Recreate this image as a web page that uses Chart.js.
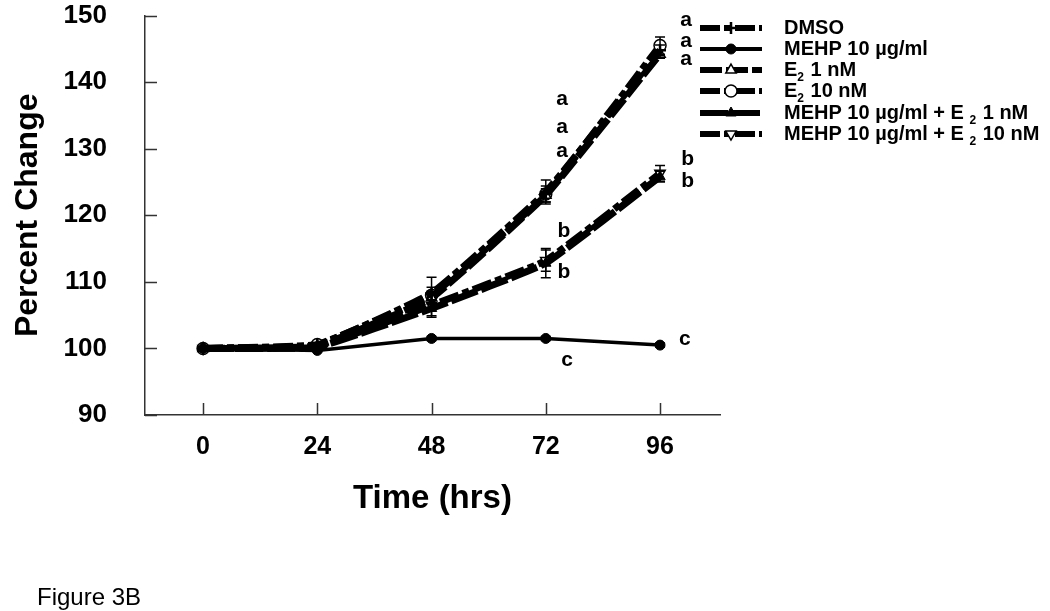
<!DOCTYPE html>
<html>
<head>
<meta charset="utf-8">
<title>Figure 3B</title>
<script src="https://cdn.jsdelivr.net/npm/chart.js@4.4.1/dist/chart.umd.min.js"></script>
<style>
    html, body { margin: 0; padding: 0; background: #fff; }
    #wrap { position: relative; width: 1050px; height: 611px; }
</style>
</head>
<body>
<div id="wrap"><canvas id="fig3b"></canvas></div>
<script>
// Time points (hrs)
const hours = [0, 24, 48, 72, 96];

// Percent change per treatment, with error (SD) per time point
const dmso = [100, 100.5, 108.3, 123.5, 144.8];
const dmsoErr = [0.2, 0.4, 2.4, 1.8, 0.8];
const mehp = [100, 99.7, 101.5, 101.5, 100.5];
const mehpErr = [0.1, 0.2, 0.3, 0.3, 0.3];
const e2Low = [100, 100.4, 107.6, 123.0, 144.2];
const e2LowErr = [0.2, 0.3, 1.0, 1.0, 0.6];
const e2High = [100, 100.6, 108.0, 123.2, 145.5];
const e2HighErr = [0.2, 0.3, 1.2, 1.2, 1.3];
const mehpE2Low = [100, 100.2, 106.0, 112.8, 125.8];
const mehpE2LowErr = [0.2, 0.3, 1.3, 2.2, 0.8];
const mehpE2High = [100, 100.3, 106.5, 113.2, 126.3];
const mehpE2HighErr = [0.2, 0.3, 1.6, 1.6, 1.2];

// Legend labels ('_2' = subscript 2)
const seriesLabels = [
    'DMSO',
    'MEHP 10 µg/ml',
    'E_2 1 nM',
    'E_2 10 nM',
    'MEHP 10 µg/ml + E _2 1 nM',
    'MEHP 10 µg/ml + E _2 10 nM'
];

// Significance letters, placed at (hour, percent)
const letterMarks = [
    { hour: 101.5, value: 149.3, text: 'a' },
    { hour: 101.5, value: 146.2, text: 'a' },
    { hour: 101.5, value: 143.5, text: 'a' },
    { hour: 75.4, value: 137.4, text: 'a' },
    { hour: 75.4, value: 133.3, text: 'a' },
    { hour: 75.4, value: 129.7, text: 'a' },
    { hour: 101.8, value: 128.4, text: 'b' },
    { hour: 101.8, value: 125.1, text: 'b' },
    { hour: 75.8, value: 117.6, text: 'b' },
    { hour: 75.8, value: 111.4, text: 'b' },
    { hour: 101.2, value: 101.4, text: 'c' },
    { hour: 76.5, value: 98.3, text: 'c' }
];

const FONT = 'Arial, "Liberation Sans", sans-serif';

const toPoints = (vals) => hours.map((h, i) => ({ x: h, y: vals[i] }));

const datasets = [
    { label: seriesLabels[0], data: toPoints(dmso), err: dmsoErr,
      borderDash: [20, 4, 7, 4], borderWidth: 7, tension: 0.1,
      pointStyle: 'cross', pointRadius: 6, pointBorderWidth: 2.5, pointBackgroundColor: '#000' },
    { label: seriesLabels[1], data: toPoints(mehp), err: mehpErr,
      borderDash: [], borderWidth: 3.5, tension: 0,
      pointStyle: 'circle', pointRadius: 5, pointBorderWidth: 1, pointBackgroundColor: '#000' },
    { label: seriesLabels[2], data: toPoints(e2Low), err: e2LowErr,
      borderDash: [22, 4], borderWidth: 7, tension: 0.1,
      pointStyle: 'triangle', pointRadius: 6, pointBorderWidth: 1.5, pointBackgroundColor: '#fff' },
    { label: seriesLabels[3], data: toPoints(e2High), err: e2HighErr,
      borderDash: [20, 4, 7, 4], borderWidth: 7, tension: 0.1,
      pointStyle: 'circle', pointRadius: 6, pointBorderWidth: 1.5, pointBackgroundColor: '#fff' },
    { label: seriesLabels[4], data: toPoints(mehpE2Low), err: mehpE2LowErr,
      borderDash: [28, 4], borderWidth: 7, tension: 0.1,
      pointStyle: 'triangle', pointRadius: 6, pointBorderWidth: 1, pointBackgroundColor: '#000' },
    { label: seriesLabels[5], data: toPoints(mehpE2High), err: mehpE2HighErr,
      borderDash: [20, 4, 7, 4], borderWidth: 7, tension: 0.1,
      pointStyle: 'triangle', pointRotation: 180, pointRadius: 6, pointBorderWidth: 1.5, pointBackgroundColor: '#fff' }
].map(d => ({
    ...d,
    borderColor: '#000',
    pointBorderColor: '#000',
    fill: false,
    borderCapStyle: 'butt'
}));

/**
 * Inward tick marks, error bars, letters, legend and caption
 */
const figurePlugin = {
    id: 'figure3b',
    beforeDatasetsDraw(chart) {
        const { ctx, scales: { x, y }, chartArea } = chart;
        ctx.save();
        ctx.strokeStyle = '#333';
        ctx.lineWidth = 1.5;
        ctx.beginPath();
        y.ticks.forEach(t => {
            const py = Math.round(y.getPixelForValue(t.value)) + 0.5;
            ctx.moveTo(chartArea.left, py);
            ctx.lineTo(chartArea.left + 12, py);
        });
        x.ticks.forEach(t => {
            const px = Math.round(x.getPixelForValue(t.value)) + 0.5;
            ctx.moveTo(px, chartArea.bottom);
            ctx.lineTo(px, chartArea.bottom - 12);
        });
        ctx.stroke();
        ctx.restore();
    },
    afterDatasetsDraw(chart) {
        const { ctx, scales: { x, y } } = chart;
        ctx.save();

        // Error bars
        ctx.strokeStyle = '#000';
        ctx.lineWidth = 1.5;
        chart.data.datasets.forEach(ds => {
            ds.data.forEach((p, i) => {
                const e = ds.err[i];
                if (!e) return;
                const px = x.getPixelForValue(p.x);
                const top = y.getPixelForValue(p.y + e);
                const bot = y.getPixelForValue(p.y - e);
                ctx.beginPath();
                ctx.moveTo(px, top); ctx.lineTo(px, bot);
                ctx.moveTo(px - 5, top); ctx.lineTo(px + 5, top);
                ctx.moveTo(px - 5, bot); ctx.lineTo(px + 5, bot);
                ctx.stroke();
            });
        });

        // Significance letters
        ctx.fillStyle = '#000';
        ctx.font = 'bold 21px ' + FONT;
        ctx.textAlign = 'center';
        ctx.textBaseline = 'middle';
        letterMarks.forEach(m => {
            ctx.fillText(m.text, x.getPixelForValue(m.hour), y.getPixelForValue(m.value));
        });

        // Legend
        const lx0 = 700, lx1 = 762, tx = 784;
        const rowY = [28, 49, 70, 91, 113, 134];
        chart.data.datasets.forEach((ds, i) => {
            const ry = rowY[i];
            ctx.strokeStyle = '#000';
            ctx.lineWidth = ds.borderWidth === 7 ? 6 : 4;
            ctx.setLineDash(ds.borderDash);
            ctx.beginPath();
            ctx.moveTo(lx0, ry); ctx.lineTo(lx1, ry);
            ctx.stroke();
            ctx.setLineDash([]);
            ctx.fillStyle = ds.pointBackgroundColor;
            ctx.lineWidth = ds.pointBorderWidth;
            Chart.helpers.drawPoint(ctx, {
                pointStyle: ds.pointStyle,
                rotation: ds.pointRotation || 0,
                radius: ds.pointRadius,
                borderWidth: ds.pointBorderWidth
            }, 731, ry);

            // Label text with subscript
            ctx.fillStyle = '#000';
            ctx.textAlign = 'left';
            ctx.textBaseline = 'middle';
            let cx = tx;
            ds.label.split('_').forEach((part, k) => {
                if (k > 0) {
                    ctx.font = 'bold 12px ' + FONT;
                    ctx.fillText(part[0], cx, ry + 8);
                    cx += ctx.measureText(part[0]).width + 1;
                    part = part.slice(1);
                }
                ctx.font = 'bold 20px ' + FONT;
                ctx.fillText(part, cx, ry);
                cx += ctx.measureText(part).width;
            });
        });

        // Caption
        ctx.font = '24px ' + FONT;
        ctx.textAlign = 'left';
        ctx.textBaseline = 'middle';
        ctx.fillText('Figure 3B', 37, 598);
        ctx.restore();
    }
};

const chart = new Chart(document.getElementById('fig3b'), {
    type: 'line',
    data: { datasets },
    plugins: [figurePlugin],
    options: {
        responsive: true,
        maintainAspectRatio: false,
        animation: false,
        layout: { padding: { top: 15, right: 330, left: 0, bottom: 0 } },
        plugins: {
            legend: { display: false },
            tooltip: { enabled: false }
        },
        scales: {
            x: {
                type: 'linear',
                min: -12.2,
                max: 108.6,
                afterBuildTicks: (scale) => {
                    scale.ticks = hours.map(h => ({ value: h }));
                },
                afterFit: (scale) => { scale.height = 196; },
                // label offset comes from tickLength; the inward ticks are drawn by the plugin
                grid: { display: false, drawTicks: true, tickLength: 17 },
                border: { display: true, color: '#333', width: 1.5 },
                ticks: {
                    padding: 0,
                    color: '#000',
                    font: { family: FONT, size: 25, weight: 'bold' }
                },
                title: {
                    display: true,
                    text: 'Time (hrs)',
                    color: '#000',
                    font: { family: FONT, size: 33, weight: 'bold' },
                    padding: { top: 92, bottom: 92 }
                }
            },
            y: {
                min: 90,
                max: 150,
                afterFit: (scale) => { scale.width = 145; },
                grid: { display: false, drawTicks: true, tickLength: 38 },
                border: { display: true, color: '#333', width: 1.5 },
                ticks: {
                    stepSize: 10,
                    padding: 0,
                    color: '#000',
                    font: { family: FONT, size: 26, weight: 'bold' }
                },
                title: {
                    display: true,
                    text: 'Percent Change',
                    color: '#000',
                    font: { family: FONT, size: 32, weight: 'bold' },
                    padding: { top: 9, bottom: 9 }
                }
            }
        }
    }
});
console.log('[Fig3B] Chart drawn, area', chart.chartArea);
</script>
</body>
</html>
